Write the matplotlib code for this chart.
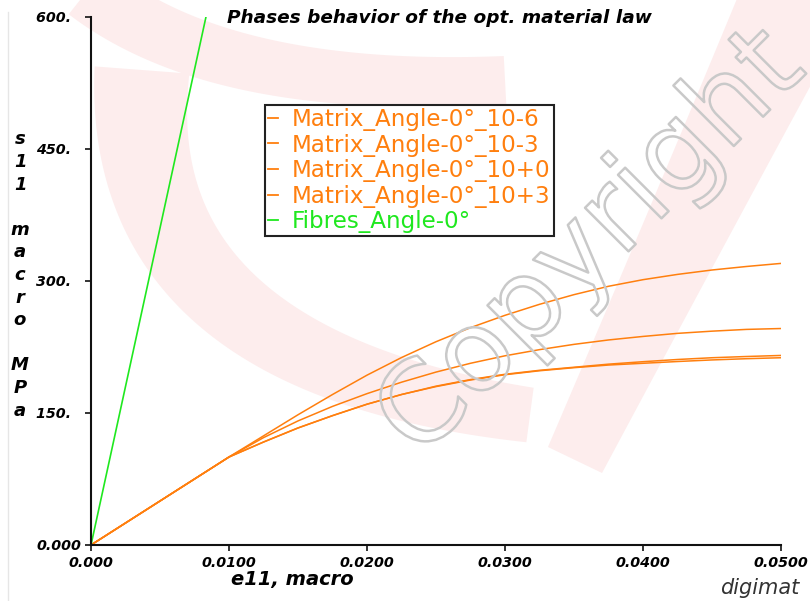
import numpy as np
import matplotlib
matplotlib.use("Agg")
import matplotlib.pyplot as plt
from matplotlib.patches import Polygon
from matplotlib.lines import Line2D
import matplotlib.patheffects as pe

# ---- data -------------------------------------------------------------
strain = [0.0, 0.01, 0.0125, 0.015, 0.0175, 0.02, 0.0225, 0.025, 0.0275,
          0.03, 0.0325, 0.035, 0.0375, 0.04, 0.0425, 0.045, 0.0475, 0.05]

matrix_10m6 = [0, 100, 117, 133, 147, 160, 171, 180, 187.5, 193.5, 198,
               201.5, 204.5, 206.5, 208.5, 210.3, 211.7, 212.8]
matrix_10m3 = [0, 100, 117, 133, 147, 160, 171, 180.5, 188, 194, 198.5,
               202, 205.5, 208.3, 210.8, 212.8, 214.2, 215.4]
matrix_10p0 = [0, 100, 122, 141, 157.5, 172, 185, 196.5, 206.5, 215, 222,
               228, 233, 237, 240.5, 243, 245, 246]
matrix_10p3 = [0, 100, 124, 148, 171, 193, 213, 231, 247, 261, 273.5,
               284.5, 294, 301.5, 307.5, 312.5, 316.5, 320]

fibre_strain = [0.0, 0.00833]
fibre_stress = [0, 600]

series_labels = ["Matrix_Angle-0°_10-6", "Matrix_Angle-0°_10-3",
                 "Matrix_Angle-0°_10+0", "Matrix_Angle-0°_10+3",
                 "Fibres_Angle-0°"]

x_ticks = [0.0, 0.01, 0.02, 0.03, 0.04, 0.05]
x_tick_labels = ["0.000", "0.0100", "0.0200", "0.0300", "0.0400", "0.0500"]
y_ticks = [0, 150, 300, 450, 600]
y_tick_labels = ["0.000", "150.  ", "300.  ", "450.  ", "600.  "]

ORANGE = "#ff7f0e"
GREEN = "#1fe81f"
W, H = 810, 601

fig = plt.figure(figsize=(W / 100, H / 100), dpi=100)
fig.patch.set_facecolor("white")

# ---- faint background logo swooshes (pixel coordinates) ---------------
bg = fig.add_axes([0, 0, 1, 1], zorder=0)
bg.set_xlim(0, W)
bg.set_ylim(H, 0)
bg.axis("off")
PINK = "#fdeded"


def swoosh(p0, p1, p2, w0, w1, n=120):
    """Band of varying width along a quadratic Bezier centreline."""
    p0, p1, p2 = (np.asarray(p, float) for p in (p0, p1, p2))
    t = np.linspace(0, 1, n)[:, None]
    c = (1 - t) ** 2 * p0 + 2 * (1 - t) * t * p1 + t ** 2 * p2
    d = 2 * (1 - t) * (p1 - p0) + 2 * t * (p2 - p1)
    d /= np.linalg.norm(d, axis=1, keepdims=True)
    nrm = np.c_[-d[:, 1], d[:, 0]]
    half = (w0 + (w1 - w0) * t) / 2
    return np.vstack([c + nrm * half, (c - nrm * half)[::-1]])


for args in (((88, -10), (220, 95), (505, 80), 62, 48),
             ((142, 70), (120, 360), (530, 415), 95, 55),
             ((800, -10), (700, 200), (575, 460), 110, 60)):
    bg.add_patch(Polygon(swoosh(*args), closed=True, fc=PINK, ec="none"))

# thin frame line on the left
fig.add_artist(Line2D([8 / W, 8 / W], [0.0, 0.98], color="#e6e6e6", lw=1))

# ---- main axes ---------------------------------------------------------
ax = fig.add_axes([91 / W, 1 - 545 / H, (781 - 91) / W, (545 - 17) / H],
                  zorder=2)
ax.patch.set_alpha(0)

ax.plot(strain, matrix_10m6, color=ORANGE, lw=1.1, label=series_labels[0])
ax.plot(strain, matrix_10m3, color=ORANGE, lw=1.1, label=series_labels[1])
ax.plot(strain, matrix_10p0, color=ORANGE, lw=1.1, label=series_labels[2])
ax.plot(strain, matrix_10p3, color=ORANGE, lw=1.1, label=series_labels[3])
ax.plot(fibre_strain, fibre_stress, color=GREEN, lw=1.2, label=series_labels[4])

ax.set_xlim(0, 0.05)
ax.set_ylim(0, 600)
for s in ("top", "right"):
    ax.spines[s].set_visible(False)
for s in ("left", "bottom"):
    ax.spines[s].set_linewidth(1.5)
    ax.spines[s].set_color("#111111")

tick_font = dict(family="DejaVu Sans", weight="bold", style="italic", size=10.3)
ax.set_xticks(x_ticks)
ax.set_xticklabels(x_tick_labels, **tick_font)
ax.set_yticks(y_ticks)
ax.set_yticklabels(y_tick_labels, **tick_font)
ax.tick_params(axis="both", direction="out", length=4, width=1.2,
               color="#111111")
ax.tick_params(axis="x", pad=4)
ax.tick_params(axis="y", pad=3)

leg = ax.legend(loc="upper left", bbox_to_anchor=(265 / W, 1 - 105 / H),
                bbox_transform=fig.transFigure, frameon=True, fancybox=False,
                handlelength=0.42, handletextpad=0.62,
                labelspacing=0.11, borderpad=0.13, borderaxespad=0,
                labelcolor="linecolor",
                prop={"family": "DejaVu Sans", "size": 16.6})
leg.get_frame().set_edgecolor("#222222")
leg.get_frame().set_linewidth(1.5)
leg.get_frame().set_facecolor("white")
leg.get_frame().set_alpha(1)
for h in leg.legend_handles:
    h.set_linewidth(1.3)

# ---- titles and axis labels -------------------------------------------
label_font = dict(family="DejaVu Sans", weight="bold", style="italic")
fig.text(439 / W, 1 - 18 / H, "Phases behavior of the opt. material law",
         ha="center", va="center", size=13.3, **label_font)
fig.text(292 / W, 1 - 580 / H, "e11, macro", ha="center", va="center",
         size=14, **label_font)
fig.text(20 / W, 1 - 275 / H, "s\n1\n1\n\nm\na\nc\nr\no\n\nM\nP\na",
         ha="center", va="center", size=13, linespacing=1.33, **label_font)

# ---- watermark text -----------------------------------------------------
fig.text(592 / W, 1 - 244 / H, "Copyright", ha="center", va="center",
         rotation=45, size=81, family="DejaVu Sans", color=(1, 1, 1, 0),
         zorder=3,
         path_effects=[pe.Stroke(linewidth=1.8, foreground="#c9c9c9")])
fig.text(760 / W, 1 - 588 / H, "digimat", ha="center", va="center",
         size=15, style="italic", family="DejaVu Sans", color="#333333")

fig.savefig("out.png", dpi=100)
